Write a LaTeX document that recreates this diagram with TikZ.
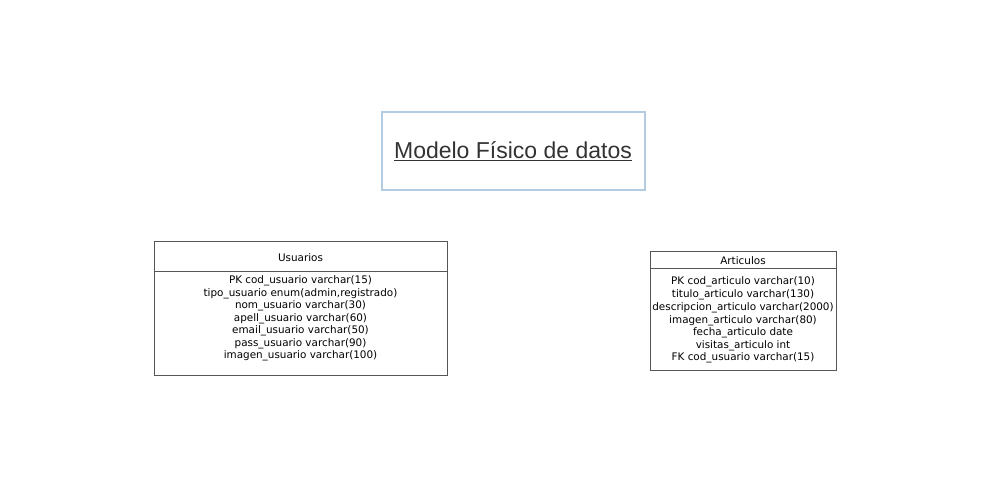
\documentclass[tikz,border=0pt]{standalone}
\usepackage{fontspec}
\setmainfont{DejaVu Sans}
\newfontfamily\titlefont{Liberation Sans}
\usetikzlibrary{positioning}
\definecolor{titleborder}{HTML}{B4CCE2}
\definecolor{titletext}{HTML}{333333}
\definecolor{tableline}{HTML}{555555}
\begin{document}
\begin{tikzpicture}[x=1pt,y=-1pt,
  tablebox/.style={draw=tableline,line width=0.8pt},
  rowtext/.style={font=\fontsize{10.4}{11}\selectfont,inner sep=0pt,anchor=center},
  titlebox/.style={draw=titleborder,line width=2pt}]
\useasboundingbox (0,0) rectangle (998,482);
% title
\node[titlebox,minimum width=263pt,minimum height=78pt,inner sep=0pt] (title) at (513,150.5) {};
\node[font=\titlefont\fontsize{23}{26}\selectfont,text=titletext,inner sep=0pt] (titletxt) at (513,151)
  {\underline{Modelo Físico de datos}};
% Usuarios
\node[tablebox,minimum width=293pt,minimum height=134pt,inner sep=0pt] (usu) at (300.5,308) {};
\coordinate (usuL) at (154,271);
\coordinate (usuR) at (447,271);
\draw[tableline,line width=0.8pt] (usuL) -- (usuR);
\node[rowtext] (usuh) at (300.5,257.5) {Usuarios};
\node[rowtext] (u1) at (300.5,281.2) {PK cod\_usuario varchar(15)};
\node[rowtext] (u2) at (300.5,293.7) {tipo\_usuario enum(admin,registrado)};
\node[rowtext] (u3) at (300.5,306.2) {nom\_usuario varchar(30)};
\node[rowtext] (u4) at (300.5,318.7) {apell\_usuario varchar(60)};
\node[rowtext] (u5) at (300.5,331.2) {email\_usuario varchar(50)};
\node[rowtext] (u6) at (300.5,343.7) {pass\_usuario varchar(90)};
\node[rowtext] (u7) at (300.5,356.2) {imagen\_usuario varchar(100)};
% Articulos
\node[tablebox,minimum width=186pt,minimum height=119pt,inner sep=0pt] (art) at (743,310.5) {};
\coordinate (artL) at (650,268);
\coordinate (artR) at (836,268);
\draw[tableline,line width=0.8pt] (artL) -- (artR);
\node[rowtext] (arth) at (743,260.5) {Articulos};
\node[rowtext] (a1) at (743,282.2) {PK cod\_articulo varchar(10)};
\node[rowtext] (a2) at (743,295) {titulo\_articulo varchar(130)};
\node[rowtext] (a3) at (743,307.8) {descripcion\_articulo varchar(2000)};
\node[rowtext] (a4) at (743,320.5) {imagen\_articulo varchar(80)};
\node[rowtext] (a5) at (743,333) {fecha\_articulo date};
\node[rowtext] (a6) at (743,345.5) {visitas\_articulo int};
\node[rowtext] (a7) at (743,358) {FK cod\_usuario varchar(15)};
\end{tikzpicture}
\end{document}
